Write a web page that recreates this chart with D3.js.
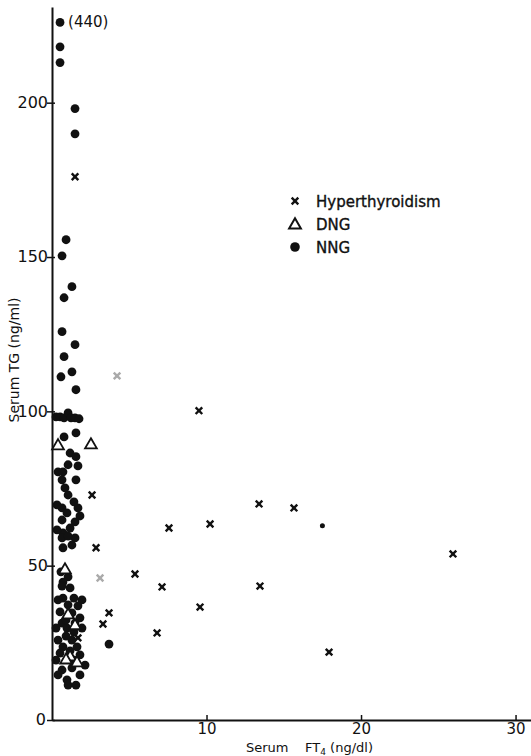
<html>
<head>
<script src="https://cdn.jsdelivr.net/npm/d3@7"></script>
<style>
body { margin: 0; background: #fff; }
text { font-family: "DejaVu Sans", "Liberation Sans", sans-serif; fill: #111; }
</style>
</head>
<body>
<div id="canvas"></div>
<script>

var width = 531;
var height = 756;

// Serum FT4 (ng/dl) and serum TG (ng/ml)
var hyperX = [1.49, 4.21, 2.59, 2.85, 3.11, 1.68, 3.69, 3.30, 5.37, 7.12, 6.80, 9.51, 7.57, 10.23, 13.40, 15.66, 13.46, 9.58, 25.95, 17.93];
var hyperY = [176.0, 111.5, 72.9, 55.8, 46.0, 26.6, 34.7, 31.1, 47.3, 43.1, 28.2, 100.2, 62.2, 63.5, 70.0, 68.7, 43.4, 36.6, 53.8, 22.0];
var hyperFaded = [1, 4];

var dngX = [0.39, 2.52, 0.84, 1.04, 1.49, 1.17, 1.62, 0.91];
var dngY = [88.8, 89.1, 48.6, 34.0, 30.5, 20.4, 18.5, 19.4];

var nngX = [0.52, 0.52, 0.52, 1.49, 1.49, 0.91, 0.65, 1.29, 0.78, 0.65, 1.49, 0.78, 1.29, 0.58, 1.55,
    0.26, 0.52, 0.78, 1.04, 1.23, 1.49, 1.75, 1.55, 0.78, 1.17, 1.55, 0.39, 0.71, 1.04, 1.68,
    1.55, 0.65, 0.84, 1.04, 1.42, 0.65, 1.68, 0.97, 1.81, 0.65, 1.49, 1.17, 0.71, 0.65, 1.49,
    1.04, 0.71, 0.58, 1.04, 0.71, 1.17, 0.65, 0.71, 1.94, 1.04, 1.68, 0.52, 1.29, 1.81, 0.65,
    1.49, 0.97, 1.94, 0.39, 1.29, 0.71, 1.62, 0.52, 1.17, 1.81, 2.14, 0.65, 1.29, 1.81, 0.97,
    1.04, 3.69, 0.39, 1.42, 0.91, 0.26, 1.42, 0.91, 0.26, 1.42, 0.39, 1.55, 0.32, 1.29, 0.32,
    17.5];
var nngY = [440, 218.1, 213.0, 198.1, 189.9, 155.6, 150.4, 140.4, 136.8, 125.8, 121.6, 117.7, 112.8, 111.2, 107.0,
    98.2, 98.2, 97.9, 99.5, 97.9, 97.9, 97.6, 93.0, 91.7, 86.5, 85.3, 80.4, 80.4, 82.7, 82.3,
    77.8, 77.8, 75.2, 72.9, 70.7, 68.7, 68.7, 67.1, 66.1, 64.8, 64.2, 62.2, 60.6, 59.0, 59.0,
    59.6, 55.8, 48.0, 46.4, 44.7, 42.8, 43.4, 39.5, 38.9, 37.3, 37.0, 35.0, 34.7, 33.1, 31.4,
    31.4, 29.8, 29.8, 25.9, 25.9, 23.7, 23.7, 21.7, 22.4, 21.1, 17.8, 16.2, 16.9, 14.6, 13.0,
    11.3, 24.6, 38.9, 39.5, 32.4, 29.8, 28.5, 27.2, 19.4, 19.4, 14.6, 11.3, 61.6, 56.7, 69.7,
    62.9];

var yTicks = [0, 50, 100, 150, 200];
var xTicks = [10, 20, 30];
var legendLabels = ["Hyperthyroidism", "DNG", "NNG"];
var yCap = 226; // values above this are drawn at the top with their value in brackets

var svg = d3.select("#canvas").append("svg").attr("width", width).attr("height", height);

var x = d3.scaleLinear().domain([0, 31]).range([52, 531]);
var y = d3.scaleLinear().domain([0, 231]).range([720, 7]);

// axes
var yAxis = d3.axisLeft(y).tickValues(yTicks).tickSizeInner(4).tickSizeOuter(0).tickPadding(2);
var gy = svg.append("g").attr("transform", "translate(" + x(0) + ",0)").call(yAxis);
gy.select(".domain").attr("stroke", "#111").attr("stroke-width", 2);
gy.selectAll(".tick line").attr("stroke", "#111").attr("stroke-width", 1.5).attr("x2", -5).attr("x1", 3);
gy.selectAll(".tick text").attr("font-size", 16).attr("fill", "#111").attr("dy", "0.3em")
    .attr("x", -4)
    .style("font-family", "'DejaVu Sans', sans-serif");
gy.selectAll(".tick").filter(function(d) { return d === 0; }).select("text").attr("x", -6).attr("dy", "0.25em");

var xAxis = d3.axisBottom(x).tickValues(xTicks).tickSizeInner(-5).tickSizeOuter(0).tickPadding(10);
var gx = svg.append("g").attr("transform", "translate(0," + y(0) + ")").call(xAxis);
gx.select(".domain").attr("stroke", "#111").attr("stroke-width", 2);
gx.selectAll(".tick line").attr("stroke", "#111").attr("stroke-width", 1.5);
gx.selectAll(".tick text").attr("font-size", 15).attr("fill", "#111").attr("y", 3)
    .style("font-family", "'DejaVu Sans', sans-serif");

// axis titles
var xt = svg.append("text").attr("x", 246).attr("y", 752).attr("font-size", 13);
xt.append("tspan").text("Serum");
xt.append("tspan").attr("x", 305).text("FT");
xt.append("tspan").attr("font-size", 9).attr("dy", 3).text("4");
xt.append("tspan").attr("dy", -3).text(" (ng/dl)");

svg.append("text")
    .attr("transform", "translate(19,360) rotate(-90)")
    .attr("text-anchor", "middle")
    .attr("font-size", 14)
    .text("Serum  TG  (ng/ml)");

// symbols
var cross = function(g, cx, cy, s, col) {
    g.append("line").attr("x1", cx - s).attr("y1", cy - s).attr("x2", cx + s).attr("y2", cy + s)
        .attr("stroke", col).attr("stroke-width", 2.4);
    g.append("line").attr("x1", cx - s).attr("y1", cy + s).attr("x2", cx + s).attr("y2", cy - s)
        .attr("stroke", col).attr("stroke-width", 2.4);
};
var triangle = d3.symbol().type(d3.symbolTriangle).size(60);

var pts = svg.append("g");

nngX.forEach(function(v, i) {
    var cy = y(Math.min(nngY[i], yCap));
    pts.append("circle").attr("cx", x(v)).attr("cy", cy).attr("r", i === nngX.length - 1 ? 2.5 : 4.4)
        .attr("fill", "#111");
    if (nngY[i] > yCap) {
        pts.append("text").attr("x", x(v) + 8).attr("y", cy + 5).attr("font-size", 15)
            .text("(" + nngY[i] + ")");
    }
});

dngX.forEach(function(v, i) {
    pts.append("path").attr("d", triangle)
        .attr("transform", "translate(" + x(v) + "," + y(dngY[i]) + ")")
        .attr("fill", "#fff").attr("stroke", "#111").attr("stroke-width", 1.8);
});

hyperX.forEach(function(v, i) {
    var col = hyperFaded.indexOf(i) >= 0 ? "#aaa" : "#111";
    cross(pts, x(v), y(hyperY[i]), 3.3, col);
});

// legend
var lg = svg.append("g").attr("transform", "translate(295,201)");
legendLabels.forEach(function(lab, i) {
    var ly = i * 23;
    if (i === 0) cross(lg, 0, ly, 3.3, "#111");
    if (i === 1) lg.append("path").attr("d", triangle).attr("transform", "translate(0," + (ly + 1) + ")")
        .attr("fill", "#fff").attr("stroke", "#111").attr("stroke-width", 2);
    if (i === 2) lg.append("circle").attr("cx", 0).attr("cy", ly).attr("r", 4.8).attr("fill", "#111");
    lg.append("text").attr("x", 21).attr("y", ly + 5.5).attr("font-size", 15)
        .attr("stroke", "#111").attr("stroke-width", 0.35).text(lab);
});

</script>
</body>
</html>
